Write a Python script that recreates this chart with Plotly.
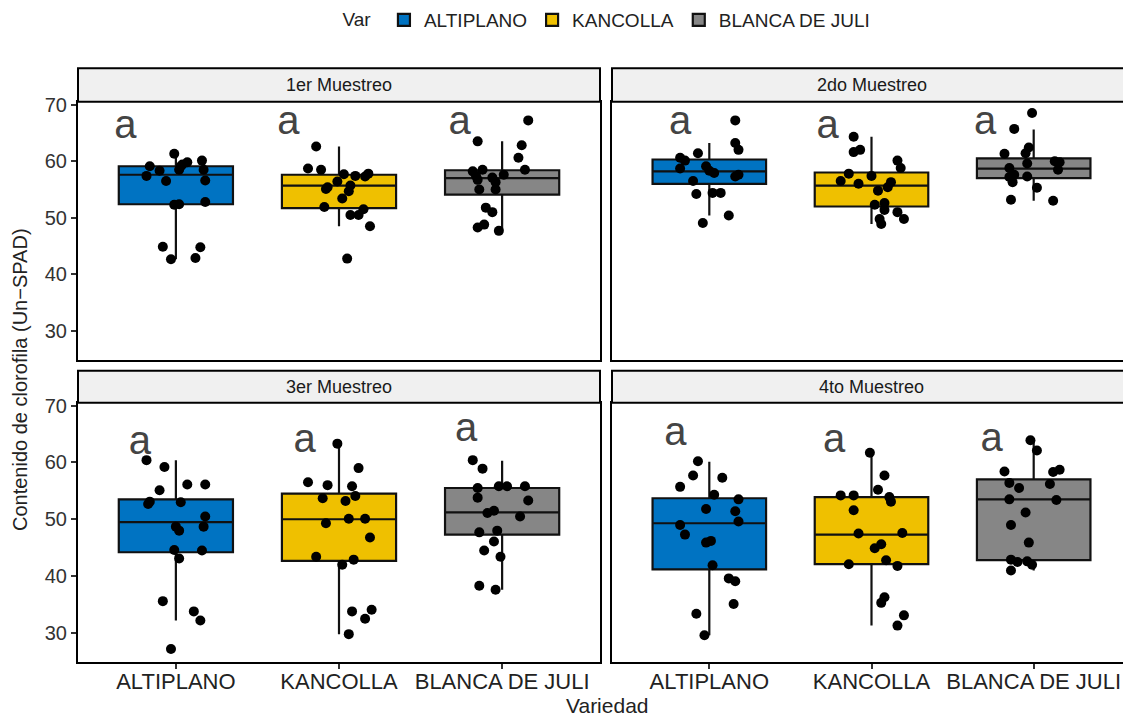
import plotly.graph_objects as go
from plotly.subplots import make_subplots

variedades = ["ALTIPLANO", "KANCOLLA", "BLANCA DE JULI"]
colores = ["#0073C2", "#EFC000", "#868686"]
muestreos = ["1er Muestreo", "2do Muestreo", "3er Muestreo", "4to Muestreo"]

# estadisticos de las cajas: una fila por muestreo, una columna por variedad
bigote_inf = [[42.7, 48.5, 47.7], [50.4, 48.9, 53.0], [32.2, 29.8, 37.6], [29.6, 31.3, 41.0]]
q1 = [[52.4, 51.7, 54.1], [56.0, 52.0, 57.0], [44.2, 42.7, 47.3], [41.2, 42.1, 42.8]]
mediana = [[57.6, 55.7, 57.0], [58.2, 55.7, 58.7], [49.5, 50.0, 51.2], [49.3, 47.3, 53.5]]
q3 = [[59.1, 57.6, 58.4], [60.3, 58.0, 60.5], [53.5, 54.5, 55.5], [53.7, 53.9, 57.0]]
bigote_sup = [[61.3, 62.6, 63.5], [63.2, 64.3, 65.6], [60.4, 63.3, 60.3], [60.1, 61.7, 63.9]]

# observaciones (SPAD) y desplazamiento horizontal del jitter
m1_alt = [61.3, 59.1, 57.4, 58.3, 56.5, 58.5, 59.4, 59.8, 60.1, 58.5, 56.6, 52.3, 52.4, 52.8, 44.9, 42.7, 44.8, 42.9, 59.1]
m1_alt_jit = [-0.01, -0.16, -0.18, -0.10, -0.06, 0.02, 0.04, 0.07, 0.16, 0.17, 0.18, -0.01, 0.02, 0.18, -0.08, -0.03, 0.15, 0.12, 0.03]
m1_kan = [62.6, 58.7, 58.5, 57.7, 57.4, 57.3, 57.8, 56.4, 55.1, 55.7, 54.7, 53.4, 51.9, 51.5, 50.5, 50.5, 48.5, 42.8, 55.4]
m1_kan_jit = [-0.14, -0.19, -0.11, 0.03, 0.10, 0.16, 0.18, -0.01, -0.08, 0.07, 0.06, 0.02, -0.09, 0.15, 0.12, 0.07, 0.19, 0.05, -0.07]
m1_bla = [67.2, 63.5, 62.8, 60.6, 58.5, 58.2, 58.5, 57.4, 57.1, 57.6, 56.7, 56.3, 55.0, 55.0, 51.8, 51.0, 48.3, 48.8, 47.7]
m1_bla_jit = [0.16, -0.15, 0.12, 0.10, 0.14, -0.18, -0.12, -0.16, -0.06, 0.01, -0.15, -0.04, -0.14, -0.04, -0.10, -0.06, -0.15, -0.11, -0.02]

m2_alt = [67.2, 63.2, 62.0, 61.4, 60.6, 60.1, 58.7, 59.1, 58.3, 57.9, 57.3, 57.6, 56.5, 54.2, 54.4, 54.4, 50.4, 49.1]
m2_alt_jit = [0.16, 0.16, 0.18, -0.07, -0.18, -0.15, -0.18, -0.02, 0.00, 0.03, 0.16, 0.18, -0.10, -0.08, 0.02, 0.07, 0.12, -0.04]
m2_kan = [64.3, 62.0, 61.6, 60.1, 58.8, 57.8, 57.4, 56.5, 56.0, 56.3, 55.4, 54.8, 52.3, 52.6, 51.4, 51.0, 49.8, 49.8, 48.9]
m2_kan_jit = [-0.11, -0.07, -0.11, 0.16, 0.18, -0.14, 0.00, -0.19, -0.08, 0.12, 0.10, 0.04, 0.02, 0.08, 0.08, 0.16, 0.20, 0.05, 0.06]
m2_bla = [68.5, 65.7, 62.4, 61.4, 61.3, 60.0, 59.8, 59.6, 58.5, 58.8, 57.6, 57.3, 57.2, 56.3, 55.3, 53.2, 53.0]
m2_bla_jit = [-0.01, -0.12, -0.03, -0.05, -0.18, 0.13, 0.16, -0.04, 0.15, -0.15, -0.12, -0.04, -0.15, -0.13, 0.02, -0.14, 0.12]

m3_alt = [60.4, 59.2, 55.1, 56.1, 56.1, 52.7, 53.1, 53.0, 50.5, 48.7, 48.7, 48.0, 44.6, 44.5, 43.1, 35.6, 33.8, 32.2, 27.2]
m3_alt_jit = [-0.18, -0.07, -0.10, 0.07, 0.18, -0.17, -0.16, 0.03, 0.18, 0.17, 0.00, 0.02, -0.01, 0.16, 0.02, -0.08, 0.11, 0.15, -0.03]
m3_kan = [63.3, 59.0, 56.5, 56.0, 55.8, 54.1, 53.7, 53.2, 49.3, 50.1, 50.1, 46.8, 43.4, 42.9, 42.0, 33.8, 34.1, 32.5, 29.8]
m3_kan_jit = [-0.01, 0.12, -0.19, -0.07, 0.08, 0.10, -0.10, 0.04, -0.08, 0.06, 0.16, 0.19, -0.14, 0.09, 0.02, 0.08, 0.20, 0.16, 0.06]
m3_bla = [60.4, 58.9, 55.5, 55.8, 55.8, 55.8, 53.8, 53.3, 51.1, 51.5, 50.5, 47.7, 48.0, 46.1, 44.5, 43.4, 38.3, 37.6]
m3_bla_jit = [-0.18, -0.12, -0.15, -0.02, 0.03, 0.14, -0.15, 0.16, -0.09, -0.05, 0.11, -0.14, -0.03, -0.05, -0.11, -0.01, -0.14, -0.04]

m4_alt = [60.2, 57.7, 57.3, 55.7, 54.3, 53.5, 51.8, 51.4, 49.6, 49.0, 47.3, 45.9, 46.2, 41.9, 39.6, 39.1, 35.1, 33.4, 29.6]
m4_alt_jit = [-0.07, -0.10, 0.08, -0.18, 0.03, 0.18, -0.02, 0.16, 0.18, -0.18, -0.15, -0.02, 0.01, 0.02, 0.12, 0.16, 0.15, -0.08, -0.03]
m4_kan = [61.7, 57.7, 55.2, 54.2, 54.2, 53.9, 53.1, 51.6, 47.5, 47.6, 45.6, 44.9, 42.1, 42.8, 41.8, 36.3, 35.3, 33.1, 31.3]
m4_kan_jit = [-0.01, 0.08, 0.04, -0.19, -0.11, 0.11, 0.12, -0.11, -0.08, 0.19, 0.06, 0.02, -0.14, 0.09, 0.16, 0.08, 0.06, 0.20, 0.16]
m4_bla = [63.9, 62.1, 58.4, 58.7, 58.3, 56.4, 55.5, 56.2, 53.5, 53.4, 51.2, 49.0, 45.9, 42.9, 42.5, 42.6, 42.0, 41.0]
m4_bla_jit = [-0.02, 0.02, -0.18, 0.16, 0.12, -0.15, -0.09, 0.10, -0.15, 0.14, -0.05, -0.14, -0.03, -0.14, -0.10, -0.04, -0.01, -0.14]

# letras de significancia (Tukey) y su posicion
letras = [["a", "a", "a"], ["a", "a", "a"], ["a", "a", "a"], ["a", "a", "a"]]
letras_dx = [[-0.31, -0.31, -0.26], [-0.18, -0.27, -0.30], [-0.22, -0.21, -0.22], [-0.21, -0.23, -0.26]]
letras_y = [[65.9, 66.5, 66.5], [66.6, 65.9, 66.5], [63.2, 63.5, 65.6], [64.9, 63.5, 63.8]]

puntos = [
    [(m1_alt, m1_alt_jit), (m1_kan, m1_kan_jit), (m1_bla, m1_bla_jit)],
    [(m2_alt, m2_alt_jit), (m2_kan, m2_kan_jit), (m2_bla, m2_bla_jit)],
    [(m3_alt, m3_alt_jit), (m3_kan, m3_kan_jit), (m3_bla, m3_bla_jit)],
    [(m4_alt, m4_alt_jit), (m4_kan, m4_kan_jit), (m4_bla, m4_bla_jit)],
]

# la pagina deja 8 px de margen en el body: la figura empieza en (8, 8)
OFF = 8
W, H = 1131 - OFF, 718 - OFF
# area de los paneles en pixeles de pantalla
X0, X1, Y0, Y1 = 78, 1131, 68, 662
ML, MR, MT, MB = X0 - OFF, 1131 - X1, Y0 - OFF, 718 - Y1


def px_x(x):
    return (x - X0) / (X1 - X0)


def px_y(y):
    return (Y1 - y) / (Y1 - Y0)


FONT = "Liberation Sans, Arial, sans-serif"

fig = make_subplots(rows=2, cols=2)

pos = [1, 2, 3]
for i, m in enumerate(muestreos):
    r, c = i // 2 + 1, i % 2 + 1
    for j, v in enumerate(variedades):
        fig.add_trace(go.Box(
            x=[pos[j]], q1=[q1[i][j]], median=[mediana[i][j]], q3=[q3[i][j]],
            lowerfence=[bigote_inf[i][j]], upperfence=[bigote_sup[i][j]],
            width=0.7, whiskerwidth=0, boxpoints=False,
            fillcolor=colores[j], line=dict(color="#111111", width=2.2),
            name=v, legendgroup=v, showlegend=(i == 0),
        ), row=r, col=c)
    for j, v in enumerate(variedades):
        ys, jit = puntos[i][j]
        fig.add_trace(go.Scatter(
            x=[pos[j] + d for d in jit], y=ys, mode="markers",
            marker=dict(color="black", size=10),
            showlegend=False, hoverinfo="y",
        ), row=r, col=c)
    fig.add_trace(go.Scatter(
        x=[pos[j] + letras_dx[i][j] for j in range(3)], y=letras_y[i],
        mode="text", text=letras[i], textposition="middle center",
        textfont=dict(size=40, color="#444444", family=FONT),
        showlegend=False, hoverinfo="skip",
    ), row=r, col=c)

# dominios de los paneles (en pixeles de pantalla)
xdom = [[px_x(78), px_x(600)], [px_x(612), 1.0]]
ydom = [[px_y(360), px_y(101.7)], [0.0, px_y(402.7)]]
strips = [(68.3, 101.7), (370.7, 402.7)]

for i in range(4):
    r, c = i // 2, i % 2
    k = "" if i == 0 else str(i + 1)
    fig.layout["xaxis" + k].update(
        domain=xdom[c], range=[0.4, 3.6], tickvals=pos, ticktext=variedades,
        showticklabels=(r == 1), ticks="outside" if r == 1 else "",
        ticklen=5, tickwidth=1.5, tickcolor="#333333", automargin=False,
        ticklabelstandoff=-6,
        showline=True, mirror=True, linecolor="black", linewidth=2,
        showgrid=False, zeroline=False,
        tickfont=dict(size=22, color="#222222", family=FONT),
    )
    fig.layout["yaxis" + k].update(
        domain=ydom[r], range=[24.9, 70.5], tickvals=[30, 40, 50, 60, 70],
        showticklabels=(c == 0), ticks="outside" if c == 0 else "",
        ticklen=5, tickwidth=1.5, tickcolor="#333333", automargin=False,
        showline=True, mirror=True, linecolor="black", linewidth=2,
        showgrid=False, zeroline=False,
        tickfont=dict(size=20, color="#333333", family=FONT),
    )
    y0, y1 = strips[r]
    fig.add_shape(type="rect", xref="paper", yref="paper",
                  x0=xdom[c][0], x1=xdom[c][1], y0=px_y(y1), y1=px_y(y0),
                  fillcolor="#F0F0F0", line=dict(color="black", width=2))
    fig.add_annotation(x=(xdom[c][0] + xdom[c][1]) / 2, y=px_y((y0 + y1) / 2),
                       xref="paper", yref="paper", xanchor="center", yanchor="middle",
                       text=muestreos[i], showarrow=False,
                       font=dict(size=18, color="#1a1a1a", family=FONT))

fig.add_annotation(x=px_x(20), y=px_y(380), xref="paper", yref="paper",
                   xanchor="center", yanchor="middle",
                   text="Contenido de clorofila (Un−SPAD)", textangle=-90, showarrow=False,
                   font=dict(size=20, color="#222222", family=FONT))
fig.add_annotation(x=px_x(607), y=px_y(705), xref="paper", yref="paper",
                   xanchor="center", yanchor="middle",
                   text="Variedad", showarrow=False,
                   font=dict(size=21, color="#222222", family=FONT))

fig.update_layout(
    width=W, height=H, margin=dict(l=ML, r=MR, t=MT, b=MB, autoexpand=False),
    paper_bgcolor="white", plot_bgcolor="white", boxmode="overlay",
    font=dict(family=FONT, color="#222222"),
    legend=dict(orientation="h", x=px_x(608), xanchor="center", y=px_y(20), yanchor="middle",
                title=dict(text="Var ", font=dict(size=19)), font=dict(size=19),
                bgcolor="rgba(0,0,0,0)", itemwidth=30),
)

fig.write_html("out.html")
